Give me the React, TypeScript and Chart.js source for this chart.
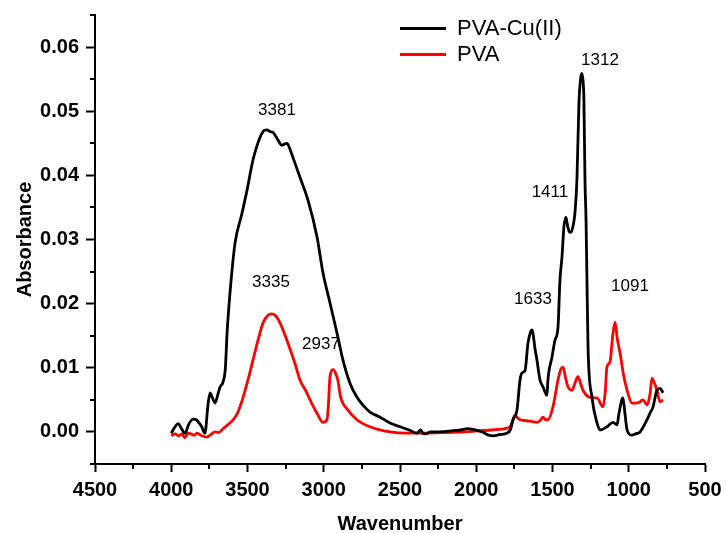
import React, { useEffect, useRef } from 'react';
import { Chart, registerables } from 'chart.js';

Chart.register(...registerables);

// ---- Data ----
const seriesNames = ['PVA-Cu(II)', 'PVA'];
const seriesColors = ['#000000', '#ff0000'];

const cuWavenumber = [
  4000, 3975, 3955, 3935, 3910, 3885, 3857, 3835, 3818, 3800, 3779, 3760, 3746, 3728, 3713, 3695, 3680, 3660,
  3645, 3634, 3615, 3582, 3536, 3503, 3464, 3418, 3390, 3372, 3350, 3333, 3300, 3274, 3255, 3241, 3220, 3202,
  3156, 3103, 3044, 3005, 2959, 2913, 2874, 2828, 2782, 2740, 2697, 2631, 2566, 2500, 2440, 2389, 2365, 2350,
  2330, 2300, 2238, 2150, 2100, 2060, 2021, 1960, 1920, 1890, 1844, 1800, 1775, 1759, 1733, 1713, 1700, 1680,
  1661, 1645, 1635, 1628, 1615, 1602, 1582, 1562, 1545, 1536, 1530, 1503, 1484, 1464, 1451, 1438, 1425, 1412,
  1400, 1390, 1379, 1362, 1353, 1340, 1326, 1316, 1309, 1300, 1294, 1287, 1280, 1274, 1267, 1241, 1208, 1189,
  1143, 1103, 1077, 1064, 1038, 1025, 1011, 979, 955, 926, 880, 861, 841, 815, 795, 775,
];
const cuAbsorbance = [
  -0.0002, 0.0008, 0.0013, 0.0006, -0.0002, 0.0012, 0.002, 0.0019, 0.0014, 0.0008, -0.0002, 0.004, 0.0061, 0.0052,
  0.0045, 0.0058, 0.007, 0.0078, 0.01, 0.0154, 0.0216, 0.0294, 0.0341, 0.0377, 0.0424, 0.0459, 0.047, 0.0471,
  0.0468, 0.0467, 0.0455, 0.0447, 0.0449, 0.045, 0.044, 0.0428, 0.0397, 0.0361, 0.0304, 0.0248, 0.0201, 0.0154,
  0.0112, 0.0076, 0.0054, 0.0041, 0.0031, 0.0023, 0.0014, 0.0008, 0.0003, -0.0002, 0.0003, -0.0002, -0.0003, 0.0,
  0.0, 0.0002, 0.0003, 0.0005, 0.0004, 0.0, -0.0005, -0.0006, -0.0004, -0.0002, 0.0004, 0.0019, 0.0034, 0.0081,
  0.0092, 0.0096, 0.0138, 0.0155, 0.0159, 0.0154, 0.013, 0.0112, 0.0081, 0.007, 0.006, 0.0057, 0.0081, 0.0117,
  0.0143, 0.0163, 0.0237, 0.0272, 0.032, 0.0335, 0.032, 0.0312, 0.0311, 0.0325, 0.0341, 0.0392, 0.0517, 0.055,
  0.0559, 0.0548, 0.0517, 0.0392, 0.033, 0.0237, 0.0132, 0.0054, 0.0014, 0.0003, 0.0008, 0.0015, 0.0011, 0.0029,
  0.0053, 0.0029, 0.0003, -0.0005, -0.0003, 0.0, 0.0019, 0.0029, 0.0039, 0.0065, 0.0068, 0.0061,
];

const pvaWavenumber = [
  4000, 3975, 3950, 3930, 3910, 3890, 3870, 3850, 3830, 3800, 3766, 3740, 3713, 3690, 3661, 3640, 3615, 3590,
  3562, 3530, 3497, 3464, 3431, 3398, 3366, 3340, 3320, 3300, 3274, 3234, 3189, 3156, 3120, 3090, 3044, 3005,
  2979, 2970, 2959, 2939, 2920, 2907, 2890, 2841, 2782, 2697, 2566, 2450, 2349, 2200, 2021, 1900, 1798, 1779,
  1760, 1746, 1730, 1713, 1650, 1602, 1580, 1562, 1545, 1530, 1497, 1464, 1445, 1431, 1415, 1398, 1372, 1350,
  1333, 1315, 1300, 1254, 1208, 1169, 1155, 1143, 1123, 1105, 1090, 1075, 1057, 1035, 1011, 979, 950, 926, 907,
  880, 860, 848, 830, 815, 795, 775,
];
const pvaAbsorbance = [
  -0.0006, -0.0003, -0.0006, -0.0003, -0.0009, -0.0002, -0.0003, -0.0005, -0.0002, -0.0006, -0.0008, -0.0004,
  0.0, -0.0001, 0.0005, 0.0009, 0.0014, 0.002, 0.0031, 0.0053, 0.0081, 0.0112, 0.0143, 0.017, 0.0182, 0.0184,
  0.0182, 0.0176, 0.0163, 0.0138, 0.0107, 0.0081, 0.0065, 0.005, 0.0029, 0.0015, 0.0019, 0.004, 0.0086, 0.0097,
  0.009, 0.008, 0.0055, 0.0034, 0.0019, 0.0008, 0.0, -0.0002, -0.0002, -0.0001, 0.0001, 0.0003, 0.0006, 0.0008,
  0.0018, 0.0026, 0.0022, 0.0019, 0.0017, 0.0015, 0.0018, 0.0023, 0.0019, 0.0019, 0.0039, 0.0081, 0.0098, 0.0101,
  0.0085, 0.007, 0.0065, 0.0078, 0.0086, 0.0075, 0.0065, 0.0054, 0.0053, 0.0039, 0.006, 0.0101, 0.0109, 0.015,
  0.0171, 0.0145, 0.0123, 0.009, 0.0065, 0.0045, 0.0045, 0.0047, 0.005, 0.0042, 0.006, 0.0084, 0.0075, 0.0065,
  0.0047, 0.005,
];

const peakLabels = ['3381', '3335', '2937', '1633', '1411', '1312', '1091'];
const peakLabelX = [3307, 3346, 3018, 1628, 1517, 1189, 992];
const peakLabelY = [0.0501, 0.0234, 0.0137, 0.0207, 0.0374, 0.0579, 0.0227];

const xMin = 500;
const xMax = 4500;
const xStep = 250;
const xLabelStep = 500;
const yMin = -0.005;
const yMax = 0.065;
const yStep = 0.005;
const yLabelStep = 0.01;

const xTitle = 'Wavenumber';
const yTitle = 'Absorbance';

const FONT = '"Liberation Sans", Arial, Helvetica, sans-serif';

const isMajorX = (v: number) => Math.abs(v / xLabelStep - Math.round(v / xLabelStep)) < 1e-6;
const isMajorY = (v: number) => Math.abs(v / yLabelStep - Math.round(v / yLabelStep)) < 1e-6;

const overlayPlugin = {
  id: 'overlay',
  afterDraw(chart: any) {
    const { ctx, chartArea, scales } = chart;
    const xs = scales.x;
    const ys = scales.y;
    ctx.save();
    ctx.strokeStyle = '#000';
    ctx.lineWidth = 2;
    // minor ticks
    xs.ticks.forEach((t: any) => {
      if (!isMajorX(t.value)) {
        const px = Math.round(xs.getPixelForValue(t.value));
        ctx.beginPath();
        ctx.moveTo(px, chartArea.bottom);
        ctx.lineTo(px, chartArea.bottom + 5);
        ctx.stroke();
      }
    });
    ys.ticks.forEach((t: any) => {
      if (!isMajorY(t.value)) {
        const py = Math.round(ys.getPixelForValue(t.value));
        ctx.beginPath();
        ctx.moveTo(chartArea.left - 5, py);
        ctx.lineTo(chartArea.left, py);
        ctx.stroke();
      }
    });
    // peak labels
    ctx.fillStyle = '#000';
    ctx.font = `17px ${FONT}`;
    ctx.textAlign = 'center';
    ctx.textBaseline = 'middle';
    peakLabels.forEach((lbl, i) => {
      ctx.fillText(lbl, xs.getPixelForValue(peakLabelX[i]), ys.getPixelForValue(peakLabelY[i]));
    });
    // legend
    const lx = chartArea.left + 305;
    const ly = chartArea.top + 13.5;
    ctx.font = `22px ${FONT}`;
    ctx.textAlign = 'left';
    chart.data.datasets.forEach((ds: any, i: number) => {
      const y = ly + i * 26;
      ctx.strokeStyle = ds.borderColor;
      ctx.lineWidth = 3;
      ctx.beginPath();
      ctx.moveTo(lx, y);
      ctx.lineTo(lx + 46, y);
      ctx.stroke();
      ctx.fillStyle = '#000';
      ctx.fillText(ds.label, lx + 57, y);
    });
    ctx.restore();
  },
};

export default function App() {
  const canvasRef = useRef<HTMLCanvasElement | null>(null);

  useEffect(() => {
    if (!canvasRef.current) return;
    const chart = new Chart(canvasRef.current, {
      type: 'line',
      data: {
        datasets: [
          {
            label: seriesNames[0],
            data: cuWavenumber.map((x, i) => ({ x, y: cuAbsorbance[i] })),
            borderColor: seriesColors[0],
            backgroundColor: seriesColors[0],
            borderWidth: 2.8,
            pointRadius: 0,
            cubicInterpolationMode: 'monotone',
          },
          {
            label: seriesNames[1],
            data: pvaWavenumber.map((x, i) => ({ x, y: pvaAbsorbance[i] })),
            borderColor: seriesColors[1],
            backgroundColor: seriesColors[1],
            borderWidth: 2.8,
            pointRadius: 0,
            cubicInterpolationMode: 'monotone',
          },
        ],
      },
      options: {
        responsive: false,
        animation: false,
        layout: { padding: { left: 0, right: 21, top: 15, bottom: 0 } },
        plugins: {
          legend: { display: false },
          tooltip: { enabled: false },
        },
        scales: {
          x: {
            type: 'linear',
            min: xMin,
            max: xMax,
            reverse: true,
            afterFit: (s: any) => {
              s.height = 69;
              s.paddingLeft = 0;
              s.paddingRight = 0;
            },
            grid: {
              display: true,
              drawOnChartArea: false,
              drawTicks: true,
              tickLength: 8,
              tickWidth: 2,
              tickColor: (c: any) => (c.tick && isMajorX(c.tick.value) ? '#000' : 'rgba(0,0,0,0)'),
            },
            border: { display: true, color: '#000', width: 2 },
            ticks: {
              stepSize: xStep,
              autoSkip: false,
              maxRotation: 0,
              padding: 6,
              color: '#000',
              font: { family: FONT, size: 20, weight: 'bold' },
              callback: (v: any) => (isMajorX(Number(v)) ? String(Math.round(Number(v))) : ''),
            },
            title: {
              display: true,
              text: xTitle,
              color: '#000',
              font: { family: FONT, size: 20, weight: 'bold' },
              padding: { top: 0, bottom: -3 },
            },
          },
          y: {
            type: 'linear',
            min: yMin,
            max: yMax,
            afterFit: (s: any) => {
              s.width = 95;
              s.paddingTop = 0;
              s.paddingBottom = 0;
            },
            grid: {
              display: true,
              drawOnChartArea: false,
              drawTicks: true,
              tickLength: 9,
              tickWidth: 2,
              tickColor: (c: any) => (c.tick && isMajorY(c.tick.value) ? '#000' : 'rgba(0,0,0,0)'),
            },
            border: { display: true, color: '#000', width: 2 },
            ticks: {
              stepSize: yStep,
              autoSkip: false,
              padding: 7,
              color: '#000',
              font: { family: FONT, size: 20, weight: 'bold' },
              callback: (v: any) => {
                const n = Number(v);
                if (!isMajorY(n)) return '';
                return Math.abs(n) < 1e-9 ? '0.00' : n.toFixed(2);
              },
            },
            title: {
              display: true,
              text: yTitle,
              color: '#000',
              font: { family: FONT, size: 20, weight: 'bold' },
              padding: { top: 13, bottom: 0 },
            },
          },
        },
      },
      plugins: [overlayPlugin],
    } as any);
    return () => chart.destroy();
  }, []);

  return (
    <div style={{ position: 'absolute', left: 0, top: 0, width: 726, height: 533, background: '#fff' }}>
      <canvas ref={canvasRef} width={726} height={533} style={{ display: 'block' }} />
    </div>
  );
}
